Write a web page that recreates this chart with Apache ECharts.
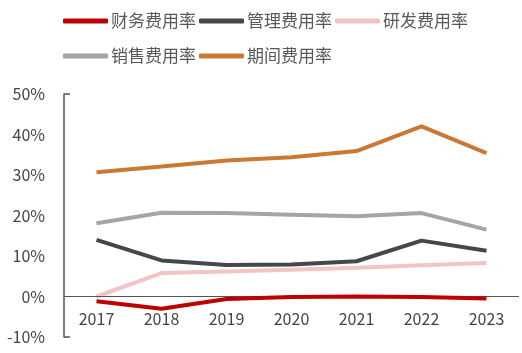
<!DOCTYPE html>
<html>
<head>
<meta charset="utf-8">
<script src="https://cdn.jsdelivr.net/npm/echarts@6/dist/echarts.min.js"></script>
<style>
  html, body { margin: 0; padding: 0; background: #fff; }
  #chart { width: 522px; height: 353px; }
</style>
</head>
<body>
<div id="chart"></div>
<script>
  const years = ['2017', '2018', '2019', '2020', '2021', '2022', '2023'];
  const finance = [-1.2, -3.0, -0.6, -0.1, 0.0, -0.1, -0.5];
  const manage = [14.0, 8.9, 7.8, 7.9, 8.7, 13.8, 11.3];
  const research = [0.0, 5.8, 6.2, 6.6, 7.1, 7.7, 8.3];
  const sales = [18.1, 20.7, 20.6, 20.2, 19.8, 20.6, 16.5];
  const period = [30.7, 32.1, 33.6, 34.4, 35.9, 42.0, 35.4];

  const font = '"Noto Sans CJK SC", "Noto Sans", sans-serif';
  const chart = echarts.init(document.getElementById('chart'));

  function line(name, data, color) {
    return {
      name: name,
      type: 'line',
      data: data,
      symbol: 'none',
      lineStyle: { width: 4, color: color },
      itemStyle: { color: color }
    };
  }

  const series = [
    line('财务费用率', finance, '#C00000'),
    line('管理费用率', manage, '#45474B'),
    line('研发费用率', research, '#F2C4C4'),
    line('销售费用率', sales, '#A5A5A7'),
    line('期间费用率', period, '#C97836')
  ];
  // zero line
  series[3].markLine = {
    silent: true,
    symbol: 'none',
    label: { show: false },
    lineStyle: { color: '#555', width: 1, type: 'solid' },
    data: [{ yAxis: 0 }]
  };
  series[0].z = 5;

  const option = {
    backgroundColor: '#fff',
    animation: false,
    legend: {
      top: 0,
      left: 58,
      width: 420,
      itemGap: 3,
      itemWidth: 45,
      itemHeight: 5,
      icon: 'roundRect',
      textStyle: {
        fontFamily: font,
        fontSize: 17,
        color: '#595959',
        lineHeight: 32,
        padding: [0, 0, 0, -2]
      }
    },
    grid: { left: 64, right: 3, top: 94, bottom: 16, outerBoundsMode: 'none' },
    xAxis: {
      type: 'category',
      data: years,
      boundaryGap: true,
      axisLine: { show: false, onZero: false },
      axisTick: { show: false },
      axisLabel: { fontFamily: font, fontSize: 16, color: '#444', margin: -26 }
    },
    yAxis: {
      type: 'value',
      min: -10,
      max: 50,
      interval: 10,
      splitLine: { show: false },
      axisLine: { show: true, lineStyle: { color: '#555', width: 1.5 } },
      axisTick: { show: true, inside: true, length: 6, customValues: [-10, 50], lineStyle: { color: '#555', width: 1.5 } },
      axisLabel: {
        fontFamily: font,
        fontSize: 16,
        color: '#444',
        margin: 19,
        formatter: '{value}%'
      }
    },
    series: series
  };
  chart.setOption(option);
</script>
</body>
</html>
